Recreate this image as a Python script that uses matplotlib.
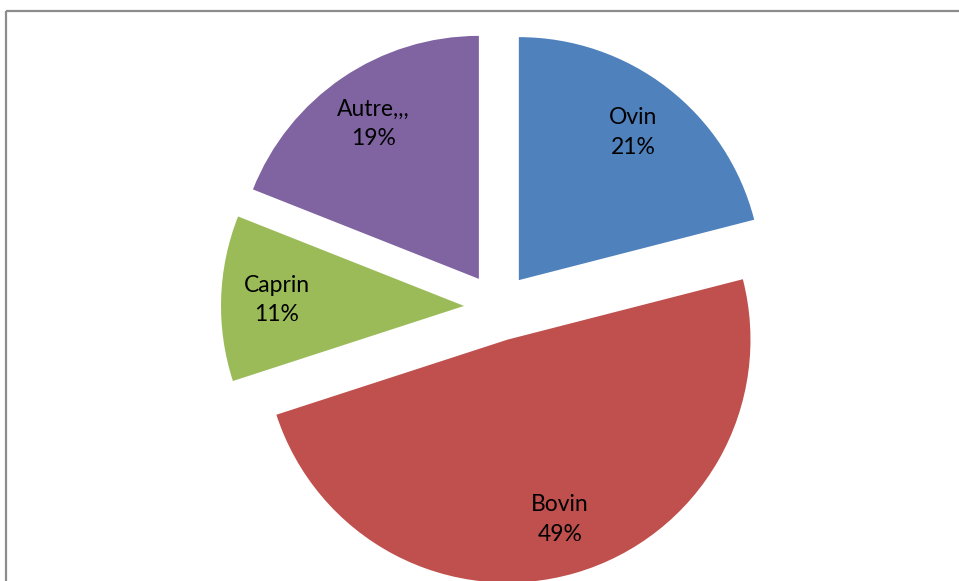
import numpy as np
import matplotlib
matplotlib.use("Agg")
import matplotlib.pyplot as plt
from matplotlib.patches import Rectangle

# Livestock composition
categories = ["Ovin", "Bovin", "Caprin", "Autre,,,"]
shares = [21, 49, 11, 19]
colors = ["#4F81BD", "#C0504D", "#9BBB59", "#8064A2"]

W, H = 959, 581
fig = plt.figure(figsize=(W / 100, H / 100), dpi=100)
fig.patch.set_facecolor("white")
ax = fig.add_axes([0, 0, 1, 1])

radius = 243
center = (498, H - 307)
explode_dist = 34  # same data units as radius

wedges, _ = ax.pie(
    shares,
    colors=colors,
    startangle=90,
    counterclock=False,
    radius=radius,
    center=center,
    explode=[explode_dist] * len(shares),
    wedgeprops=dict(linewidth=0),
)

ax.set_xlim(0, W)
ax.set_ylim(0, H)
ax.set_aspect("equal")
ax.axis("off")

# In-slice labels: name on first line, percentage on second
label_dist = 0.77
for w, name, val in zip(wedges, categories, shares):
    mid = np.deg2rad((w.theta1 + w.theta2) / 2)
    cx, cy = w.center
    tx = cx + label_dist * w.r * np.cos(mid)
    ty = cy + label_dist * w.r * np.sin(mid)
    ax.text(tx, ty, f"{name}\n{val}%", ha="center", va="center",
            fontsize=16.5, family="Lato", color="black", linespacing=1.5)

# Chart area border
border = Rectangle((5.5 / W, (H - 10.5) / H), 2.0, -2.0,
                   transform=fig.transFigure, fill=False,
                   edgecolor="#8c8c8c", linewidth=1.6, clip_on=True)
fig.patches.append(border)

fig.savefig("out.png", dpi=100, facecolor="white")
